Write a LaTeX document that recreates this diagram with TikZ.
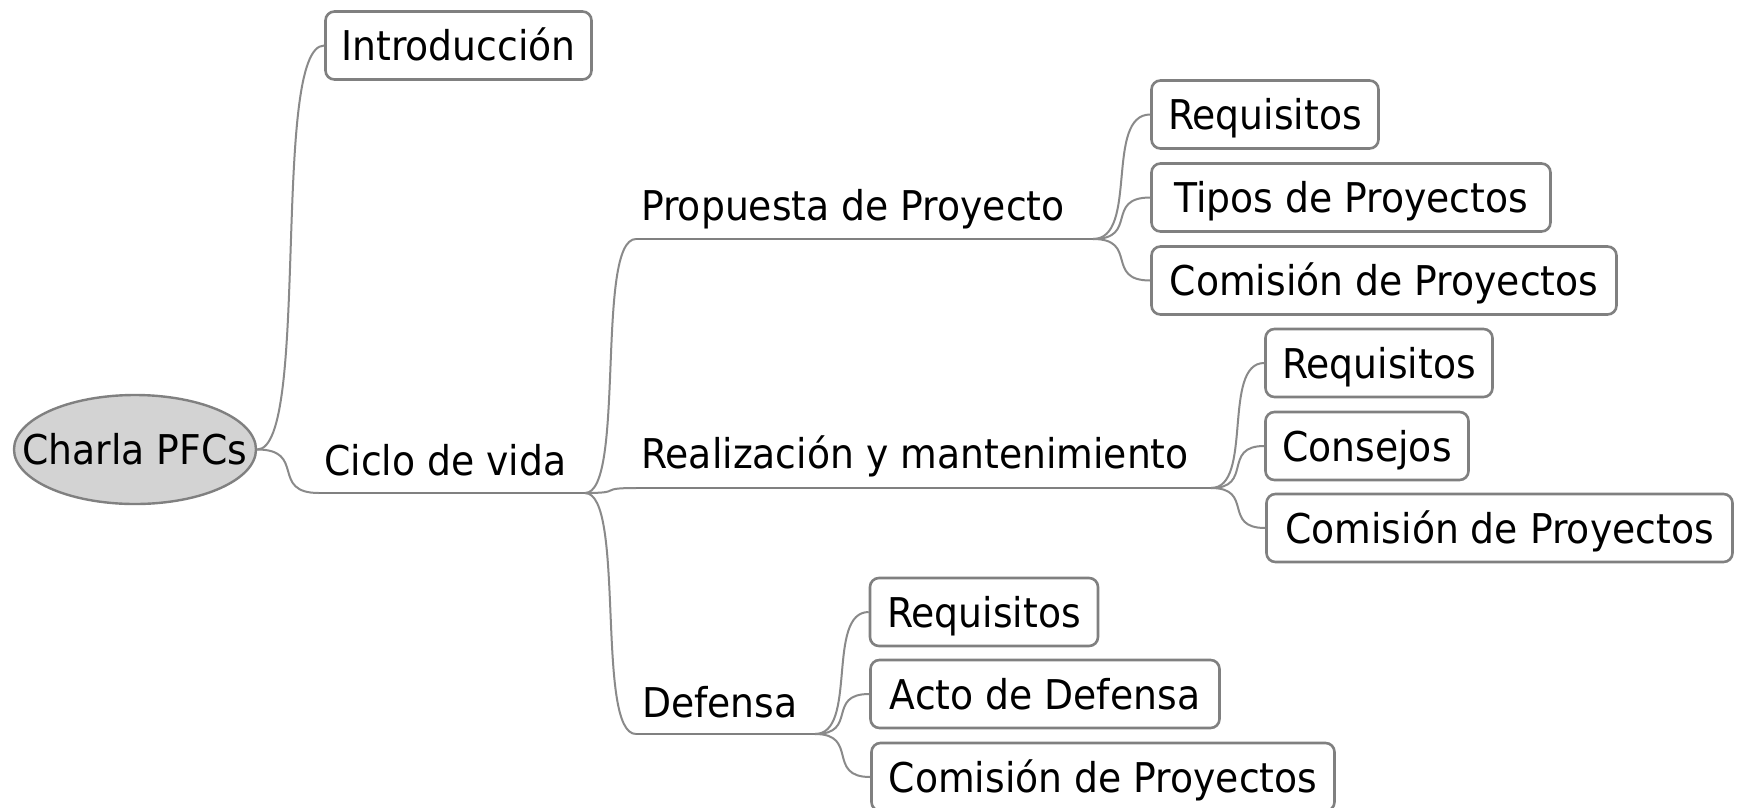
\documentclass[tikz,border=0pt]{standalone}
\usepackage{fontspec}
\setmainfont[FakeStretch=0.92]{DejaVu Sans}
\usetikzlibrary{calc,shapes.geometric}
\definecolor{edgegray}{HTML}{8A8A8A}
\definecolor{boxgray}{HTML}{808080}
\definecolor{rootfill}{HTML}{D3D3D3}
\tikzset{
  fm/.style={to path={let \p1=(\tikztostart), \p2=(\tikztotarget), \n1={0.8*(\x2-\x1)} in .. controls (\x1+\n1,\y1) and (\x2-\n1,\y2) .. (\p2) \tikztonodes}},
  edge/.style={draw=edgegray, line width=2pt},
  uline/.style={draw=boxgray, line width=2.6pt},
  bubble/.style={draw=boxgray, line width=2.6pt, rounded corners=9pt, fill=white, minimum height=68pt, inner sep=0pt, text height=38pt, text depth=8pt, text=black, font=\fontsize{41}{49}\selectfont},
  rootnode/.style={ellipse, draw=boxgray, line width=2.4pt, fill=rootfill, minimum width=242pt, minimum height=109pt, inner sep=0pt, text height=38pt, text depth=8pt, font=\fontsize{41}{49}\selectfont},
  lbl/.style={inner sep=0pt, anchor=base west, font=\fontsize{41}{49}\selectfont}
}
\begin{document}
\begin{tikzpicture}[x=1pt, y=-1pt]
\useasboundingbox (0,0) rectangle (1743,807);
\fill[white] (0,0) rectangle (1743,807);

% root
\node[rootnode] (root) at (135,449.5) {\makebox[0pt]{Charla PFCs}};

% first level
\node[bubble, minimum width=266pt] (intro) at (458.5,45.5) {Introducción};
\node[lbl] (ciclo) at (324,475) {Ciclo de vida};
\coordinate (cicloL) at (319,493);
\coordinate (cicloR) at (585,493);

% second level
\node[lbl] (prop) at (641,220) {Propuesta de Proyecto};
\coordinate (propL) at (636,239);
\coordinate (propR) at (1093,239);
\node[lbl] (real) at (641,468) {Realización y mantenimiento};
\coordinate (realL) at (636,488);
\coordinate (realR) at (1211,488);
\node[lbl] (def) at (642,717) {Defensa};
\coordinate (defL) at (636,734);
\coordinate (defR) at (815,734);

% leaves
\node[bubble, minimum width=227pt] (pr1) at (1265,114.5) {Requisitos};
\node[bubble, minimum width=399pt] (pr2) at (1351,197.5) {Tipos de Proyectos};
\node[bubble, minimum width=465pt] (pr3) at (1384,280.5) {Comisión de Proyectos};
\node[bubble, minimum width=227pt] (rm1) at (1379,363) {Requisitos};
\node[bubble, minimum width=203pt] (rm2) at (1367,446) {Consejos};
\node[bubble, minimum width=466pt] (rm3) at (1499.5,528) {Comisión de Proyectos};
\node[bubble, minimum width=228pt] (df1) at (984,612) {Requisitos};
\node[bubble, minimum width=349pt] (df2) at (1045,694) {Acto de Defensa};
\node[bubble, minimum width=463pt] (df3) at (1103,777) {Comisión de Proyectos};

% connectors
\draw[edge] (root.east) to[fm] (intro.west);
\draw[edge] (root.east) to[fm] (cicloL);
\draw[uline] (cicloL) -- (cicloR);
\draw[edge] (cicloR) to[fm] (propL);
\draw[edge] (cicloR) to[fm] (realL);
\draw[edge] (cicloR) to[fm] (defL);
\draw[uline] (propL) -- (propR);
\draw[uline] (realL) -- (realR);
\draw[uline] (defL) -- (defR);
\draw[edge] (propR) to[fm] (pr1.west);
\draw[edge] (propR) to[fm] (pr2.west);
\draw[edge] (propR) to[fm] (pr3.west);
\draw[edge] (realR) to[fm] (rm1.west);
\draw[edge] (realR) to[fm] (rm2.west);
\draw[edge] (realR) to[fm] (rm3.west);
\draw[edge] (defR) to[fm] (df1.west);
\draw[edge] (defR) to[fm] (df2.west);
\draw[edge] (defR) to[fm] (df3.west);
\end{tikzpicture}
\end{document}
